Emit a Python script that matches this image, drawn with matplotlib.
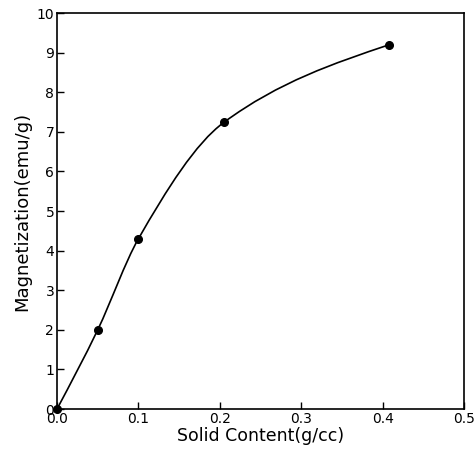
import numpy as np
import matplotlib
matplotlib.use('agg')
import matplotlib.pyplot as plt
from matplotlib.path import Path
from matplotlib.patches import PathPatch

# data
solid = [0.0, 0.05, 0.10, 0.205, 0.408]
magnet = [0.0, 2.0, 4.3, 7.24, 9.2]

x_ticks = [0.0, 0.1, 0.2, 0.3, 0.4, 0.5]
y_ticks = list(range(0, 11))


def smooth_path(xs, ys):
    # cubic hermite through the points, drawn as bezier segments
    xs = np.asarray(xs, float)
    ys = np.asarray(ys, float)
    h = np.diff(xs)
    d = np.diff(ys) / h
    m = np.zeros_like(xs)
    for i in range(1, len(xs) - 1):
        w1 = 2 * h[i] + h[i - 1]
        w2 = h[i] + 2 * h[i - 1]
        m[i] = (w1 + w2) / (w1 / d[i - 1] + w2 / d[i])
    m[0] = (3 * d[0] - m[1]) / 2
    m[-1] = (3 * d[-1] - m[-2]) / 2
    verts = [(xs[0], ys[0])]
    codes = [Path.MOVETO]
    for i in range(len(xs) - 1):
        verts += [(xs[i] + h[i] / 3, ys[i] + m[i] * h[i] / 3),
                  (xs[i + 1] - h[i] / 3, ys[i + 1] - m[i + 1] * h[i] / 3),
                  (xs[i + 1], ys[i + 1])]
        codes += [Path.CURVE4] * 3
    return Path(verts, codes)


fig = plt.figure(figsize=(4.75, 4.5), dpi=100)
ax = fig.add_axes([0.12, 0.091, 0.857, 0.88])

ax.add_patch(PathPatch(smooth_path(solid, magnet), facecolor='none',
                       edgecolor='black', lw=1.2))
ax.plot(solid, magnet, 'o', color='black', markersize=5.5, clip_on=False, zorder=3)

ax.set_xlim(0, 0.5)
ax.set_ylim(0, 10)
ax.set_xticks(x_ticks)
ax.set_xticklabels(['0.0', '0.1', '0.2', '0.3', '0.4', '0.5'])
ax.set_yticks(y_ticks)
ax.tick_params(direction='in', length=5, width=1, labelsize=10, pad=2)
for s in ax.spines.values():
    s.set_linewidth(1.2)

ax.set_xlabel('Solid Content(g/cc)', fontsize=12.5, labelpad=1)
ax.set_ylabel('Magnetization(emu/g)', fontsize=13, labelpad=4)

plt.savefig('out.png', dpi=100)
